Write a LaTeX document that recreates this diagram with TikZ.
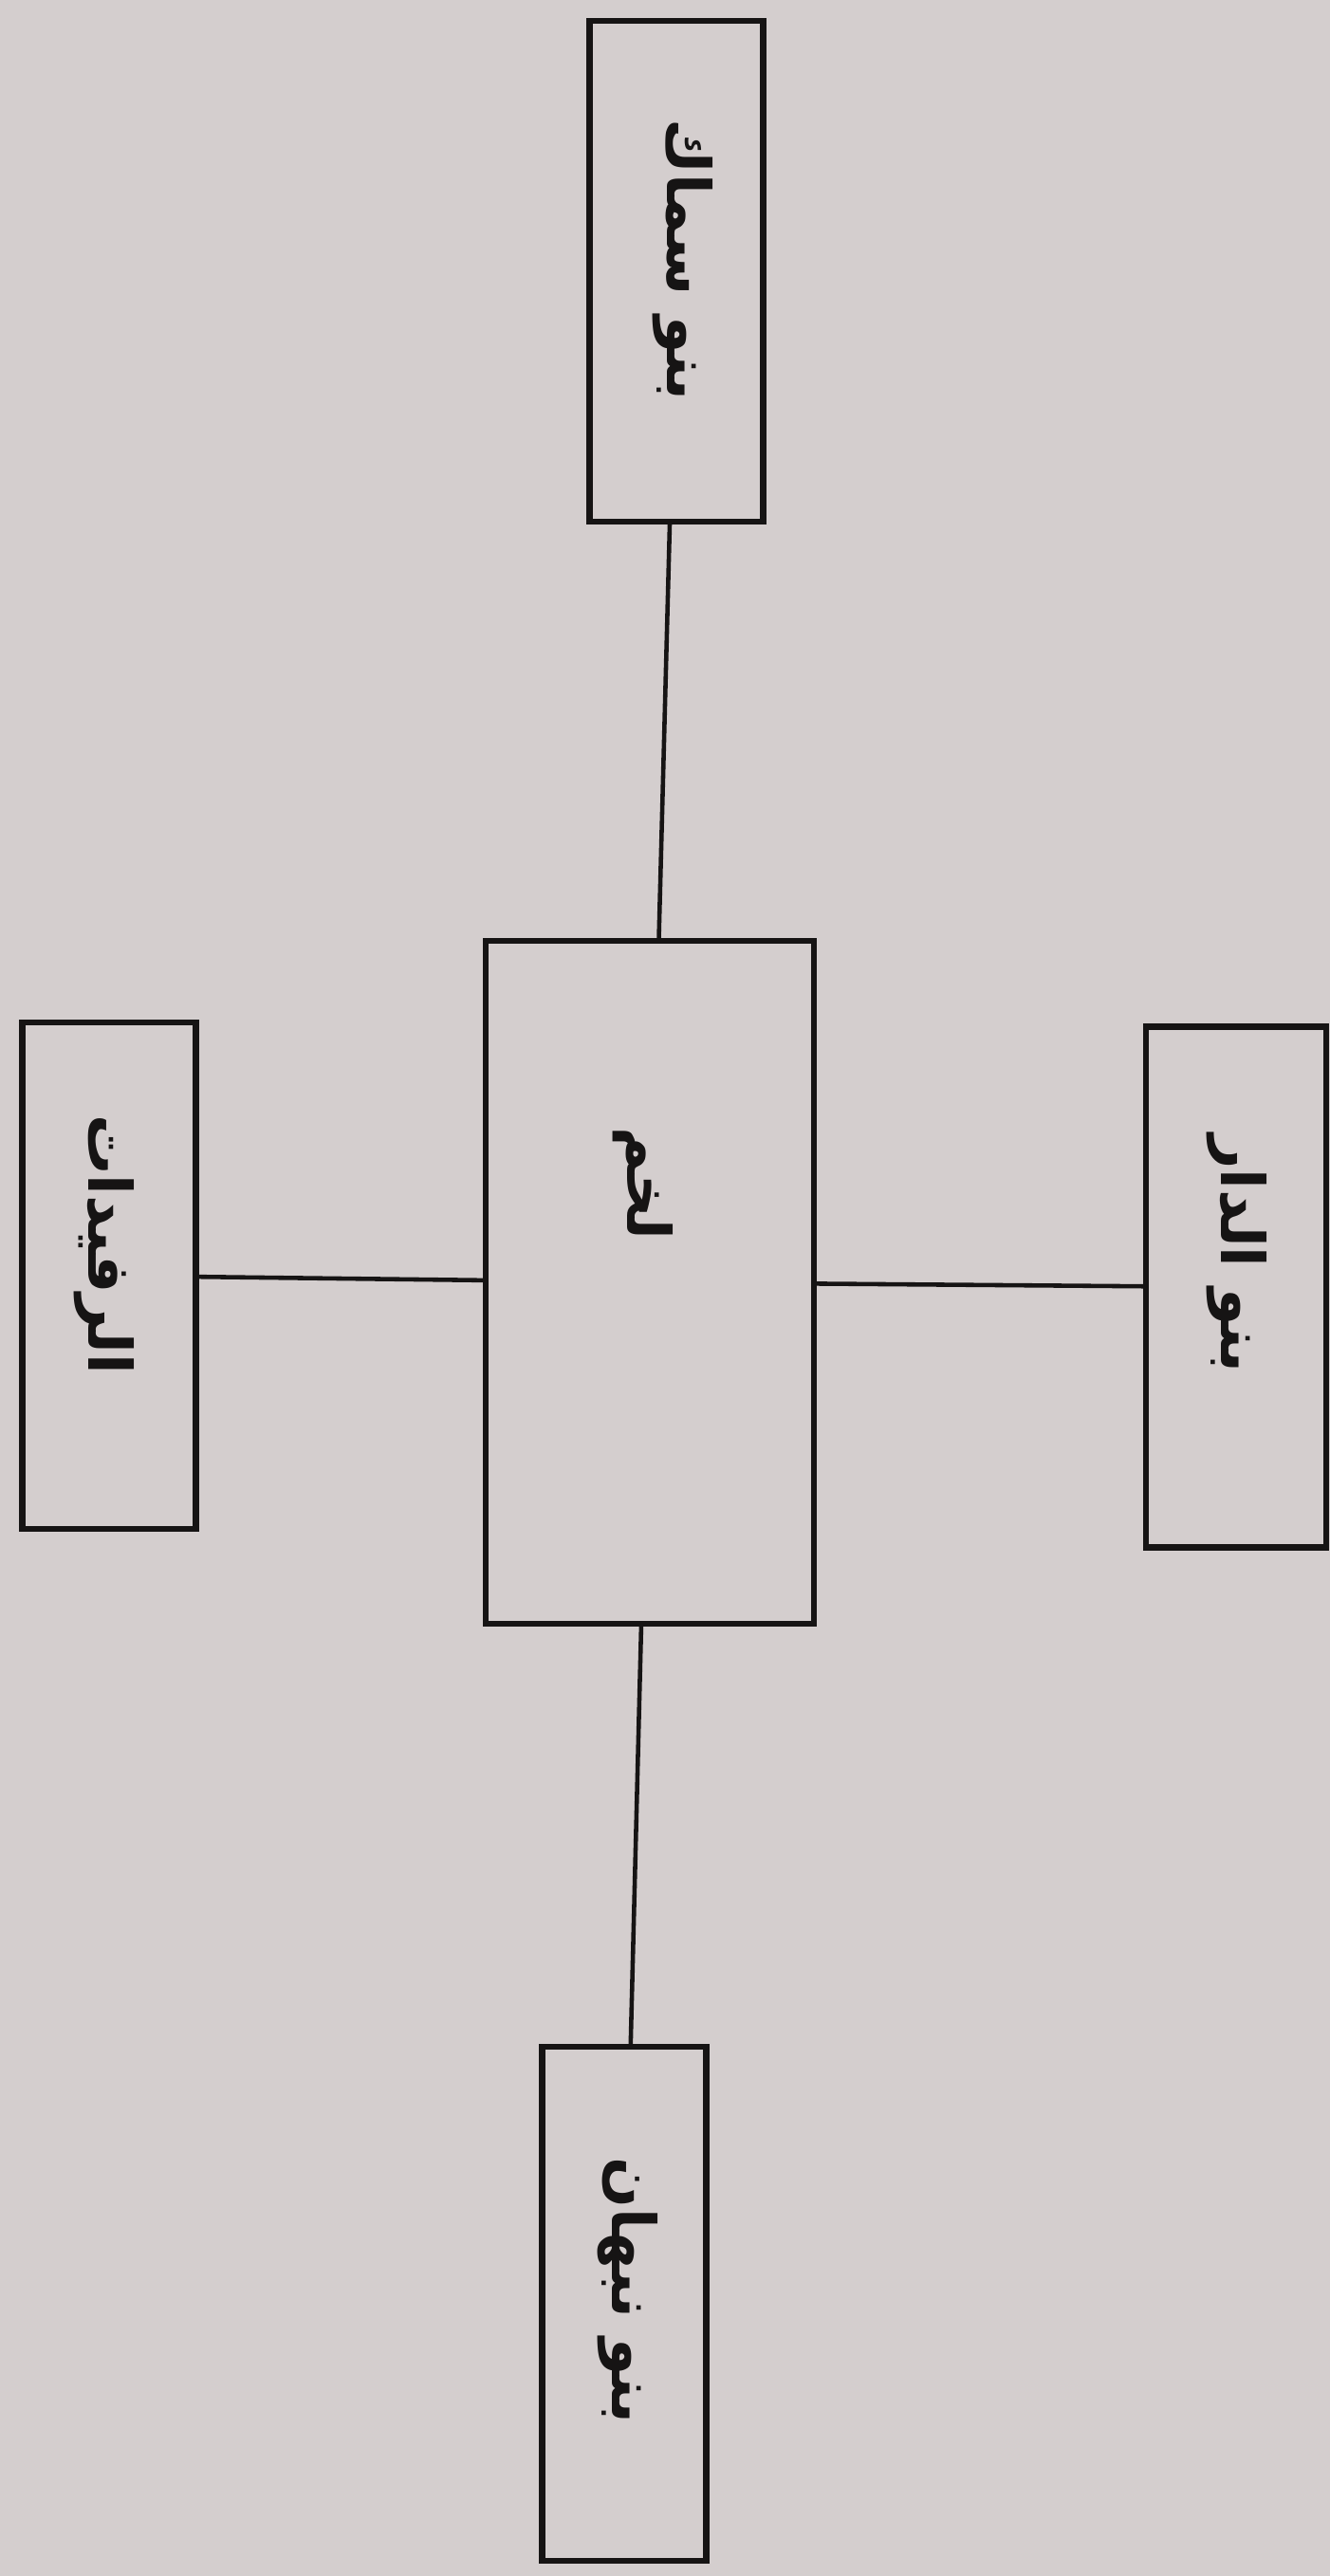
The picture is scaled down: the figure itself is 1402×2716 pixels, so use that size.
\documentclass[tikz,border=0pt]{standalone}
\usepackage{fontspec}
\newfontfamily\arabicfont[Script=Arabic]{DejaVu Sans}
\TeXXeTstate=1
\definecolor{paper}{RGB}{212,206,206}
\definecolor{ink}{RGB}{22,20,20}
\begin{document}
\begin{tikzpicture}[x=0.02cm,y=-0.02cm,
  tribe/.style={draw=ink, line width=3.8pt, rectangle, inner sep=0pt, outer sep=0pt},
  tribetext/.style={rotate=-90, inner sep=0pt, font=\arabicfont\bfseries\fontsize{36}{40}\selectfont, text=ink},
  link/.style={draw=ink, line width=2.6pt}]
\fill[paper] (0,0) rectangle (1402,2716);
\useasboundingbox (0,0) rectangle (1402,2716);
\node[tribe, minimum height=10.56cm, minimum width=3.66cm] (samak) at (713,286) {};
\node[tribe, minimum height=14.4cm, minimum width=6.92cm] (lakhm) at (685,1352) {};
\node[tribe, minimum height=10.68cm, minimum width=3.66cm] (rufaydat) at (115,1345) {};
\node[tribe, minimum height=10.98cm, minimum width=3.8cm] (dar) at (1303,1357) {};
\node[tribe, minimum height=10.84cm, minimum width=3.46cm] (nabhan) at (658,2429) {};
\node[tribetext] (samakT) at (720,274) {\beginR بنو سماك\endR};
\node[tribetext] (lakhmT) at (678,1248) {\beginR لخم\endR};
\node[tribetext] (rufaydatT) at (110,1312) {\beginR الرفيدات\endR};
\node[tribetext] (darT) at (1304,1322) {\beginR بنو الدار\endR};
\node[tribetext] (nabhanT) at (662,2415) {\beginR بنو نبهان\endR};
\draw[link] (samak) -- (lakhm);
\draw[link] (rufaydat) -- (lakhm);
\draw[link] (lakhm) -- (dar);
\draw[link] (lakhm) -- (nabhan);
\end{tikzpicture}
\end{document}
